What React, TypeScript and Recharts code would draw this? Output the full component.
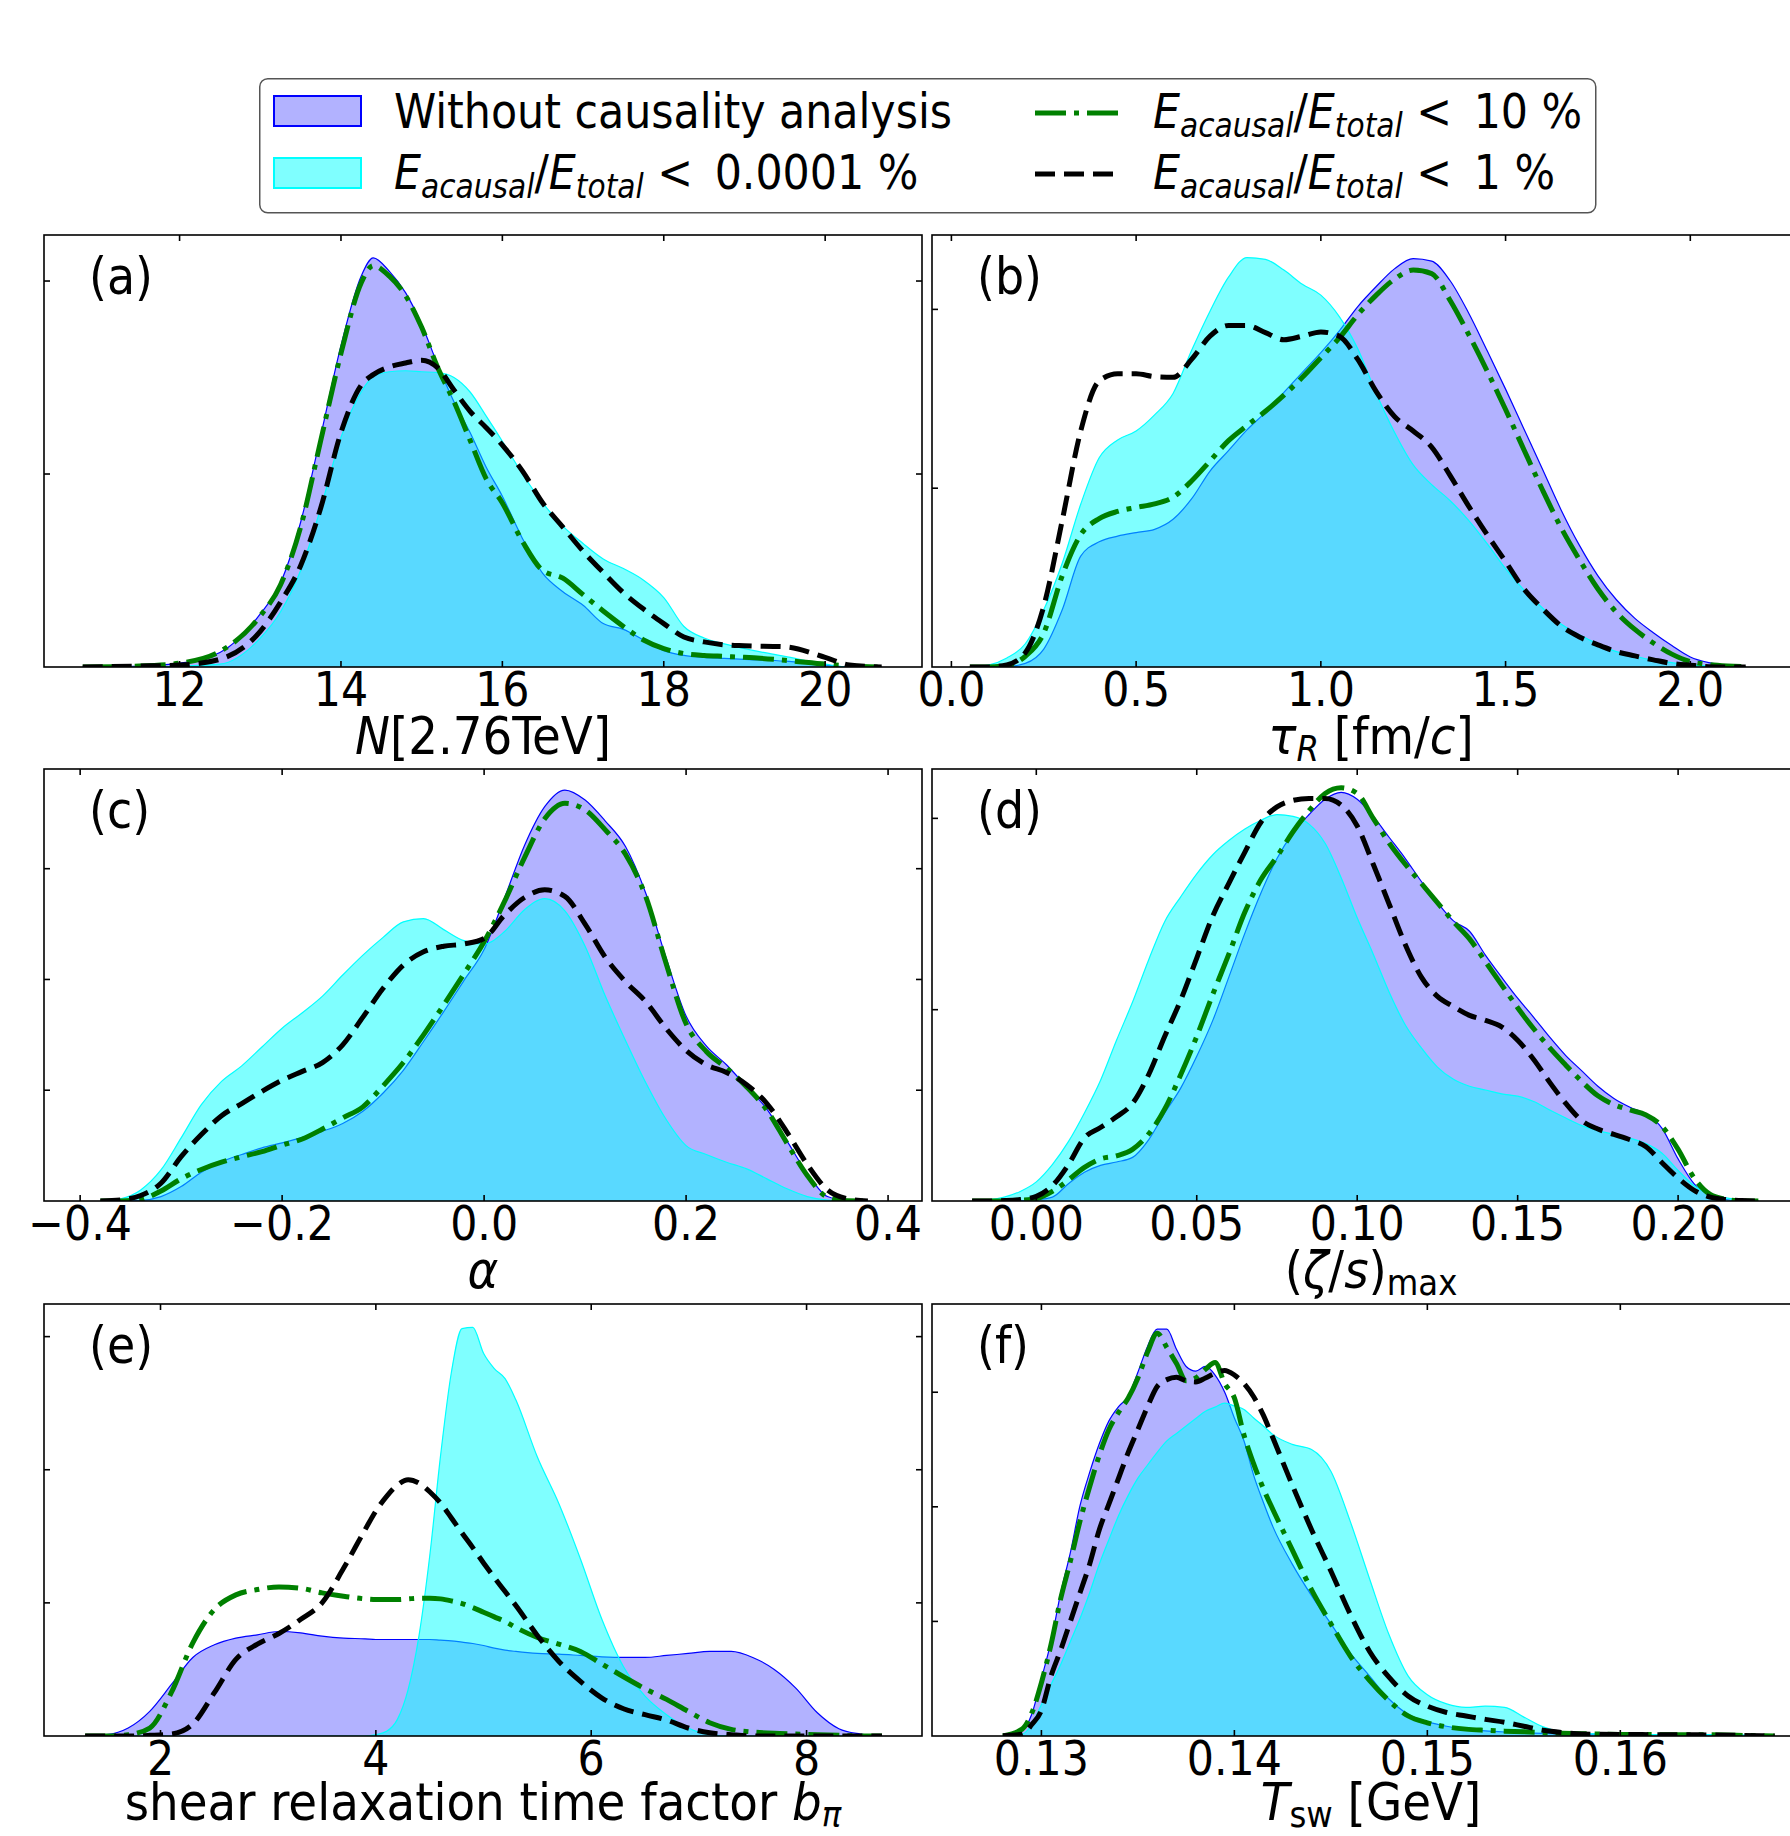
import React from "react";
import { ComposedChart, Area, Line, XAxis, YAxis } from "recharts";

const FONT = "'DejaVu Sans Condensed', 'DejaVu Sans', sans-serif";
const FS = 47.5;
const LABEL_FS = 52;

// (a) N[2.76TeV]
const normX = [10.8, 11.5, 12.0, 12.5, 13.0, 13.25, 13.5, 13.75, 14.0, 14.25, 14.4, 14.6, 14.8, 15.0, 15.2, 15.4, 15.6, 15.8, 16.0, 16.25, 16.5, 16.75, 17.0, 17.25, 17.5, 17.75, 18.0, 18.25, 18.5, 18.75, 19.0, 19.5, 20.0, 20.3, 20.7];
const normWithout = [0, 0.001, 0.004, 0.015, 0.055, 0.087, 0.15, 0.24, 0.333, 0.405, 0.424, 0.41, 0.388, 0.355, 0.313, 0.275, 0.243, 0.207, 0.177, 0.133, 0.097, 0.078, 0.064, 0.045, 0.039, 0.028, 0.017, 0.012, 0.01, 0.009, 0.008, 0.006, 0.002, 0, 0];
const normStrict = [0, 0, 0.001, 0.003, 0.03, 0.057, 0.1, 0.165, 0.238, 0.285, 0.301, 0.306, 0.307, 0.306, 0.305, 0.3, 0.285, 0.26, 0.234, 0.2, 0.17, 0.146, 0.128, 0.112, 0.102, 0.09, 0.072, 0.042, 0.03, 0.024, 0.019, 0.011, 0.003, 0, 0];
const normTen = [0, 0.001, 0.004, 0.016, 0.053, 0.085, 0.145, 0.235, 0.325, 0.398, 0.416, 0.405, 0.385, 0.352, 0.31, 0.275, 0.235, 0.195, 0.17, 0.13, 0.1, 0.092, 0.075, 0.058, 0.042, 0.028, 0.019, 0.014, 0.012, 0.011, 0.01, 0.007, 0.003, 0.001, 0];
const normOne = [0, 0.001, 0.002, 0.008, 0.037, 0.067, 0.105, 0.165, 0.243, 0.292, 0.303, 0.311, 0.315, 0.318, 0.31, 0.287, 0.265, 0.248, 0.23, 0.203, 0.17, 0.145, 0.12, 0.098, 0.077, 0.06, 0.045, 0.031, 0.026, 0.023, 0.022, 0.021, 0.01, 0.002, 0];
const normTicks = [12, 14, 16, 18, 20];

// (b) tau_R
const tauX = [0.05, 0.1, 0.15, 0.2, 0.25, 0.3, 0.35, 0.4, 0.45, 0.5, 0.55, 0.6, 0.65, 0.7, 0.75, 0.8, 0.85, 0.9, 0.95, 1.0, 1.05, 1.1, 1.15, 1.2, 1.25, 1.3, 1.35, 1.4, 1.45, 1.5, 1.55, 1.6, 1.65, 1.7, 1.75, 1.8, 1.85, 1.9, 1.95, 2.0, 2.05, 2.1, 2.15];
const tauWithout = [0, 0, 0.001, 0.01, 0.05, 0.16, 0.31, 0.35, 0.366, 0.376, 0.385, 0.413, 0.47, 0.548, 0.605, 0.663, 0.712, 0.768, 0.824, 0.879, 0.94, 1.008, 1.064, 1.114, 1.142, 1.135, 1.08, 0.99, 0.885, 0.777, 0.665, 0.553, 0.44, 0.34, 0.255, 0.188, 0.136, 0.096, 0.06, 0.028, 0.012, 0.004, 0.001];
const tauStrict = [0, 0.005, 0.025, 0.065, 0.16, 0.29, 0.455, 0.585, 0.635, 0.66, 0.705, 0.765, 0.885, 0.995, 1.09, 1.145, 1.14, 1.11, 1.07, 1.04, 0.98, 0.89, 0.765, 0.655, 0.565, 0.51, 0.465, 0.41, 0.345, 0.275, 0.215, 0.165, 0.12, 0.09, 0.064, 0.043, 0.03, 0.019, 0.012, 0.006, 0.003, 0.001, 0];
const tauTen = [0, 0, 0.004, 0.03, 0.095, 0.255, 0.37, 0.415, 0.435, 0.446, 0.456, 0.475, 0.52, 0.576, 0.633, 0.675, 0.715, 0.76, 0.81, 0.865, 0.92, 0.985, 1.04, 1.085, 1.11, 1.1, 1.025, 0.93, 0.828, 0.72, 0.607, 0.495, 0.39, 0.3, 0.218, 0.153, 0.105, 0.067, 0.036, 0.015, 0.007, 0.003, 0.001];
const tauOne = [0, 0, 0.006, 0.04, 0.17, 0.41, 0.66, 0.8, 0.82, 0.82, 0.812, 0.81, 0.86, 0.925, 0.955, 0.955, 0.935, 0.915, 0.925, 0.937, 0.925, 0.86, 0.77, 0.7, 0.66, 0.615, 0.535, 0.45, 0.37, 0.295, 0.218, 0.163, 0.115, 0.084, 0.062, 0.043, 0.031, 0.02, 0.01, 0.005, 0.001, 0, 0];
const tauTicks = [0, 0.5, 1.0, 1.5, 2.0];

// (c) alpha
const alphaX = [-0.38, -0.36, -0.34, -0.32, -0.3, -0.28, -0.26, -0.24, -0.22, -0.2, -0.18, -0.16, -0.14, -0.12, -0.1, -0.08, -0.06, -0.04, -0.02, 0, 0.02, 0.04, 0.06, 0.08, 0.1, 0.12, 0.14, 0.16, 0.18, 0.2, 0.22, 0.24, 0.26, 0.28, 0.3, 0.32, 0.34, 0.36, 0.38];
const alphaWithout = [0, 0, 0.005, 0.04, 0.13, 0.26, 0.355, 0.42, 0.48, 0.525, 0.575, 0.63, 0.7, 0.81, 0.975, 1.18, 1.44, 1.71, 1.99, 2.27, 2.73, 3.21, 3.56, 3.71, 3.62, 3.43, 3.2, 2.78, 2.2, 1.67, 1.4, 1.23, 1.03, 0.83, 0.54, 0.25, 0.04, 0.003, 0];
const alphaStrict = [0, 0.02, 0.1, 0.28, 0.57, 0.87, 1.08, 1.22, 1.39, 1.56, 1.7, 1.85, 2.04, 2.22, 2.38, 2.52, 2.55, 2.45, 2.35, 2.32, 2.43, 2.63, 2.73, 2.62, 2.3, 1.85, 1.45, 1.07, 0.74, 0.5, 0.42, 0.35, 0.29, 0.2, 0.11, 0.04, 0.008, 0, 0];
const alphaTen = [0, 0, 0.015, 0.09, 0.2, 0.285, 0.35, 0.4, 0.445, 0.505, 0.56, 0.65, 0.75, 0.85, 1.04, 1.25, 1.5, 1.77, 2.05, 2.34, 2.7, 3.1, 3.45, 3.59, 3.53, 3.35, 3.13, 2.75, 2.15, 1.6, 1.35, 1.2, 1.03, 0.82, 0.52, 0.23, 0.035, 0.002, 0];
const alphaOne = [0, 0.01, 0.05, 0.16, 0.4, 0.6, 0.77, 0.88, 0.99, 1.09, 1.17, 1.25, 1.41, 1.66, 1.92, 2.13, 2.25, 2.3, 2.32, 2.37, 2.58, 2.74, 2.81, 2.75, 2.5, 2.2, 1.98, 1.8, 1.56, 1.36, 1.23, 1.16, 1.05, 0.88, 0.62, 0.33, 0.1, 0.02, 0];
const alphaTicks = [-0.4, -0.2, 0, 0.2, 0.4];

// (d) (zeta/s)_max
const zetaX = [-0.02, -0.015, -0.01, -0.005, 0, 0.005, 0.01, 0.015, 0.02, 0.025, 0.03, 0.035, 0.04, 0.045, 0.05, 0.055, 0.06, 0.065, 0.07, 0.075, 0.08, 0.085, 0.09, 0.095, 0.1, 0.105, 0.11, 0.115, 0.12, 0.125, 0.13, 0.135, 0.14, 0.145, 0.15, 0.155, 0.16, 0.165, 0.17, 0.175, 0.18, 0.185, 0.19, 0.195, 0.2, 0.205, 0.21, 0.215, 0.22, 0.225];
const zetaWithout = [0, 0, 0, 0.01, 0.03, 0.1, 0.45, 0.75, 0.93, 1.02, 1.14, 1.6, 2.3, 2.95, 3.78, 4.72, 5.85, 7.0, 8.05, 8.95, 9.62, 10.1, 10.5, 10.68, 10.5, 10.05, 9.5, 8.95, 8.35, 7.8, 7.32, 7.05, 6.42, 5.85, 5.3, 4.8, 4.28, 3.8, 3.4, 3.0, 2.68, 2.45, 2.27, 1.9, 1.1, 0.45, 0.15, 0.04, 0, 0];
const zetaStrict = [0.005, 0.03, 0.1, 0.25, 0.5, 0.95, 1.55, 2.3, 3.15, 4.2, 5.2, 6.3, 7.3, 7.95, 8.55, 9.05, 9.42, 9.72, 9.95, 10.1, 10.05, 9.85, 9.35, 8.45, 7.4, 6.45, 5.45, 4.6, 4.0, 3.5, 3.18, 3.0, 2.9, 2.8, 2.74, 2.6, 2.38, 2.17, 1.97, 1.84, 1.74, 1.64, 1.5, 1.25, 0.8, 0.4, 0.18, 0.08, 0.03, 0.005];
const zetaTen = [0, 0, 0, 0.02, 0.06, 0.25, 0.55, 0.88, 1.1, 1.18, 1.35, 1.75, 2.4, 3.3, 4.3, 5.4, 6.45, 7.55, 8.4, 9.0, 9.65, 10.2, 10.65, 10.8, 10.65, 10.0, 9.35, 8.8, 8.3, 7.8, 7.3, 6.85, 6.25, 5.65, 5.05, 4.5, 4.0, 3.55, 3.12, 2.75, 2.52, 2.38, 2.25, 1.95, 1.35, 0.6, 0.17, 0.04, 0, 0];
const zetaOne = [0, 0, 0.01, 0.04, 0.12, 0.4, 0.95, 1.65, 1.92, 2.2, 2.55, 3.3, 4.3, 5.25, 6.35, 7.45, 8.3, 9.12, 9.9, 10.3, 10.47, 10.52, 10.52, 10.35, 9.8, 8.8, 7.75, 6.7, 5.85, 5.35, 5.08, 4.85, 4.72, 4.55, 4.2, 3.7, 3.1, 2.55, 2.1, 1.88, 1.74, 1.6, 1.42, 1.0, 0.6, 0.28, 0.1, 0.04, 0.01, 0];
const zetaTicks = [0, 0.05, 0.1, 0.15, 0.2];

// (e) b_pi
const bpiX = [1.3, 1.5, 1.7, 1.9, 2.1, 2.3, 2.5, 2.7, 2.9, 3.1, 3.3, 3.5, 3.7, 3.9, 4.0, 4.1, 4.2, 4.3, 4.4, 4.5, 4.6, 4.7, 4.8, 4.9, 5.0, 5.1, 5.2, 5.3, 5.5, 5.7, 5.9, 6.1, 6.3, 6.5, 6.7, 6.9, 7.1, 7.3, 7.5, 7.7, 7.9, 8.1, 8.3, 8.5, 8.7];
const bpiWithout = [0, 0.002, 0.012, 0.037, 0.077, 0.118, 0.137, 0.147, 0.152, 0.157, 0.155, 0.15, 0.147, 0.146, 0.145, 0.145, 0.145, 0.145, 0.145, 0.145, 0.144, 0.143, 0.141, 0.139, 0.136, 0.132, 0.129, 0.127, 0.124, 0.123, 0.121, 0.119, 0.118, 0.118, 0.121, 0.124, 0.127, 0.127, 0.118, 0.1, 0.072, 0.035, 0.011, 0.003, 0];
const bpiStrict = [0, 0, 0, 0, 0, 0, 0, 0, 0, 0, 0, 0, 0, 0, 0.002, 0.007, 0.025, 0.07, 0.15, 0.27, 0.42, 0.545, 0.612, 0.614, 0.575, 0.552, 0.537, 0.505, 0.419, 0.349, 0.266, 0.175, 0.104, 0.06, 0.032, 0.012, 0.002, 0, 0, 0, 0, 0, 0, 0, 0];
const bpiTen = [0, 0, 0.002, 0.012, 0.065, 0.14, 0.19, 0.212, 0.22, 0.224, 0.222, 0.215, 0.21, 0.206, 0.205, 0.205, 0.205, 0.206, 0.207, 0.207, 0.206, 0.203, 0.199, 0.193, 0.186, 0.179, 0.172, 0.163, 0.148, 0.138, 0.127, 0.108, 0.089, 0.071, 0.055, 0.037, 0.02, 0.01, 0.006, 0.004, 0.003, 0.002, 0.001, 0, 0];
const bpiOne = [0, 0, 0, 0.001, 0.003, 0.018, 0.065, 0.115, 0.138, 0.154, 0.175, 0.2, 0.252, 0.31, 0.338, 0.36, 0.377, 0.385, 0.38, 0.367, 0.35, 0.328, 0.305, 0.283, 0.26, 0.238, 0.217, 0.196, 0.151, 0.112, 0.082, 0.057, 0.041, 0.032, 0.024, 0.012, 0.005, 0.002, 0, 0, 0, 0, 0, 0, 0];
const bpiTicks = [2, 4, 6, 8];

// (f) T_sw
const tswX = [0.128, 0.129, 0.1295, 0.13, 0.1305, 0.131, 0.1315, 0.132, 0.1325, 0.133, 0.1335, 0.134, 0.1345, 0.135, 0.1355, 0.136, 0.1365, 0.137, 0.1375, 0.138, 0.1385, 0.139, 0.1395, 0.14, 0.1405, 0.141, 0.1415, 0.142, 0.143, 0.144, 0.145, 0.146, 0.147, 0.148, 0.149, 0.15, 0.151, 0.152, 0.153, 0.154, 0.155, 0.156, 0.157, 0.158, 0.16, 0.162, 0.164, 0.166, 0.168];
const tswWithout = [0, 1.0, 3.8, 10, 16.5, 25, 32, 40.2, 46, 51, 55, 57.5, 59.3, 63.5, 68, 71, 71, 67.5, 64.5, 63.7, 64.5, 63, 60, 55.5, 51.5, 45.5, 40.8, 36.5, 30, 24.5, 19.6, 14.5, 10.5, 6.5, 3.8, 2.5, 1.7, 1.2, 0.9, 0.7, 0.55, 0.45, 0.4, 0.32, 0.27, 0.22, 0.2, 0.13, 0];
const tswStrict = [0, 0.3, 2, 5.5, 9, 12.5, 16.5, 20.5, 25, 30, 34.3, 38.5, 42, 45, 47.3, 49.5, 51.5, 52.8, 54.1, 55.4, 56.7, 57.4, 58.1, 57.6, 57, 55.5, 54.1, 52.6, 50.9, 50, 46.2, 37.5, 27.5, 17.8, 10.5, 7.2, 5.6, 5.0, 5.2, 5.0, 3.3, 1.6, 0.7, 0.45, 0.3, 0.25, 0.24, 0.18, 0.05];
const tswTen = [0, 1.2, 4, 9.3, 16, 24, 30.5, 37.5, 43.5, 49, 53.5, 56.5, 59, 62.5, 67, 70.3, 67.8, 65, 62, 62.5, 64, 65.2, 61.5, 59, 52.5, 47.5, 43.2, 39.5, 32.5, 25.5, 19.6, 14, 9.7, 6.2, 3.5, 2.3, 1.6, 1.2, 1.0, 0.85, 0.75, 0.6, 0.5, 0.4, 0.28, 0.24, 0.24, 0.12, 0];
const tswOne = [0.05, 0.3, 2, 4.5, 10.5, 15, 20, 25, 30, 36, 40.5, 45, 49.5, 53.5, 57.5, 61, 62.2, 62.6, 62, 61.8, 62.5, 63.3, 63.8, 63, 61.5, 59.2, 56, 52, 43.8, 36, 28.8, 21.3, 14.8, 10.3, 7, 5.2, 4.1, 3.5, 2.9, 2.4, 1.7, 1.0, 0.6, 0.35, 0.27, 0.23, 0.2, 0.12, 0];
const tswTicks = [0.13, 0.14, 0.15, 0.16];

const W = 878;
const H = 432;
const PADX = 70;
const PADY = 12;
const TICK = 6;

const minus = (s: string) => s.replace("-", "\u2212");

const panels = [
  { id: "(a)", left: 44, top: 235, x: normX, without: normWithout, strict: normStrict, ten: normTen, one: normOne, xDomain: [10.32, 21.2], xTicks: normTicks, fmt: (v: number) => String(v), yMax: 0.4477, yTicks: [0.2, 0.4] },
  { id: "(b)", left: 932, top: 235, x: tauX, without: tauWithout, strict: tauStrict, ten: tauTen, one: tauOne, xDomain: [-0.0525, 2.324], xTicks: tauTicks, fmt: (v: number) => v.toFixed(1), yMax: 1.208, yTicks: [0.5, 1.0] },
  { id: "(c)", left: 44, top: 769, x: alphaX, without: alphaWithout, strict: alphaStrict, ten: alphaTen, one: alphaOne, xDomain: [-0.4358, 0.4336], xTicks: alphaTicks, fmt: (v: number) => minus(v.toFixed(1)), yMax: 3.9, yTicks: [1, 2, 3] },
  { id: "(d)", left: 932, top: 769, x: zetaX, without: zetaWithout, strict: zetaStrict, ten: zetaTen, one: zetaOne, xDomain: [-0.0325, 0.2411], xTicks: zetaTicks, fmt: (v: number) => v.toFixed(2), yMax: 11.29, yTicks: [5, 10] },
  { id: "(e)", left: 44, top: 1304, x: bpiX, without: bpiWithout, strict: bpiStrict, ten: bpiTen, one: bpiOne, xDomain: [0.918, 9.072], xTicks: bpiTicks, fmt: (v: number) => String(v), yMax: 0.649, yTicks: [0.2, 0.4, 0.6] },
  { id: "(f)", left: 932, top: 1304, x: tswX, without: tswWithout, strict: tswStrict, ten: tswTen, one: tswOne, xDomain: [0.12433, 0.16983], xTicks: tswTicks, fmt: (v: number) => v.toFixed(2), yMax: 75.4, yTicks: [20, 40, 60] },
];

function Panel({ cfg }: { cfg: any }) {
  const rows = cfg.x.map((x: number, i: number) => ({
    x,
    without: cfg.without[i],
    strict: cfg.strict[i],
    ten: cfg.ten[i],
    one: cfg.one[i],
  }));

  // bottom axis draws its labels plus inward ticks on both bottom and top spines
  const bottomTick = (p: any) => (
    <g>
      <line x1={p.x} y1={p.y} x2={p.x} y2={p.y - TICK} stroke="#000" strokeWidth={1.6} />
      <line x1={p.x} y1={p.y - H} x2={p.x} y2={p.y - H + TICK} stroke="#000" strokeWidth={1.6} />
      <text x={p.x} y={p.y + 39} textAnchor="middle" fontSize={FS} fontFamily={FONT} fill="#000">
        {cfg.fmt(p.payload.value)}
      </text>
    </g>
  );
  const leftTick = (p: any) => (
    <line x1={p.x} y1={p.y} x2={p.x + TICK} y2={p.y} stroke="#000" strokeWidth={1.6} />
  );
  const rightTick = (p: any) => (
    <line x1={p.x} y1={p.y} x2={p.x - TICK} y2={p.y} stroke="#000" strokeWidth={1.6} />
  );

  return (
    <div style={{ position: "absolute", left: cfg.left - PADX, top: cfg.top - PADY }}>
      <ComposedChart
        width={W + 2 * PADX}
        height={H + PADY + 60}
        data={rows}
        margin={{ top: PADY, right: PADX - 1, left: PADX - 1, bottom: 0 }}
      >
        <XAxis xAxisId="b" dataKey="x" type="number" domain={cfg.xDomain} ticks={cfg.xTicks}
          allowDataOverflow interval={0} height={60} tickSize={0} tickMargin={0} tickLine={false}
          axisLine={false} tick={bottomTick} />
        <YAxis yAxisId="l" type="number" domain={[0, cfg.yMax]} ticks={cfg.yTicks}
          allowDataOverflow interval={0} width={1} tickSize={0} tickMargin={0} tickLine={false}
          axisLine={false} tick={leftTick} />
        <YAxis yAxisId="r" orientation="right" type="number" domain={[0, cfg.yMax]} ticks={cfg.yTicks}
          allowDataOverflow interval={0} width={1} tickSize={0} tickMargin={0} tickLine={false}
          axisLine={false} tick={rightTick} />
        <Area xAxisId="b" yAxisId="l" dataKey="without" type="monotone" fill="#0000ff" fillOpacity={0.3}
          stroke="#0000ff" strokeWidth={1.2} dot={false} activeDot={false} isAnimationActive={false} />
        <Area xAxisId="b" yAxisId="l" dataKey="strict" type="monotone" fill="#00ffff" fillOpacity={0.5}
          stroke="#00ffff" strokeWidth={1.2} dot={false} activeDot={false} isAnimationActive={false} />
        <Line xAxisId="b" yAxisId="r" dataKey="ten" type="monotone" stroke="#008000" strokeWidth={5}
          strokeDasharray="31 8 5 8" dot={false} activeDot={false} isAnimationActive={false} />
        <Line xAxisId="b" yAxisId="r" dataKey="one" type="monotone" stroke="#000000" strokeWidth={5}
          strokeDasharray="20 9" dot={false} activeDot={false} isAnimationActive={false} />
      </ComposedChart>
    </div>
  );
}

const SUB = 33;
const SHIFT = 9;

function RatioLabel({ x, y, tail }: { x: number; y: number; tail: string }) {
  return (
    <text x={x} y={y} fontSize={FS} fontFamily={FONT} fill="#000">
      <tspan fontStyle="italic">E</tspan>
      <tspan fontStyle="italic" fontSize={SUB} dy={SHIFT}>acausal</tspan>
      <tspan dy={-SHIFT}>/</tspan>
      <tspan fontStyle="italic">E</tspan>
      <tspan fontStyle="italic" fontSize={SUB} dy={SHIFT}>total</tspan>
      <tspan dy={-SHIFT}>{" <"}</tspan>
      <tspan dx={8}>{" " + tail}</tspan>
    </text>
  );
}

function Legend() {
  return (
    <svg width={1340} height={138} style={{ position: "absolute", left: 259, top: 78 }}>
      <rect x={0.75} y={0.75} width={1336} height={134} rx={8} fill="#fff" stroke="#555" strokeWidth={1.5} />
      <rect x={15} y={18} width={87} height={30} fill="#0000ff" fillOpacity={0.3} stroke="#0000ff" strokeWidth={2} />
      <rect x={15} y={80} width={87} height={30} fill="#00ffff" fillOpacity={0.5} stroke="#00ffff" strokeWidth={2} />
      <text x={135} y={50} fontSize={FS} fontFamily={FONT} fill="#000">Without causality analysis</text>
      <RatioLabel x={135} y={111} tail="0.0001 %" />
      <line x1={776} y1={35} x2={859} y2={35} stroke="#008000" strokeWidth={5} strokeDasharray="31 8 5 8" />
      <line x1={776} y1={96} x2={859} y2={96} stroke="#000" strokeWidth={5} strokeDasharray="20 9" />
      <RatioLabel x={894} y={50} tail="10 %" />
      <RatioLabel x={894} y={111} tail="1 %" />
    </svg>
  );
}

function Captions() {
  const lx = 44 + W / 2;
  const rx = 932 + W / 2;
  const base = (top: number) => Math.min(top + H + 87, 1820);
  const sub = 36;
  const sh = 7;
  const t = { fontSize: LABEL_FS, fontFamily: FONT, fill: "#000", textAnchor: "middle" as const };
  return (
    <svg width={1790} height={1836} style={{ position: "absolute", left: 0, top: 0, pointerEvents: "none" }}>
      {panels.map((p) => (
        <g key={p.id}>
          <rect x={p.left} y={p.top} width={W} height={H} fill="none" stroke="#000" strokeWidth={1.6} />
          <text x={p.left + 45} y={p.top + 59} fontSize={51} fontFamily={FONT} fill="#000">{p.id}</text>
        </g>
      ))}
      <text x={lx} y={base(235)} {...t}>
        <tspan fontStyle="italic">N</tspan>[2.76TeV]
      </text>
      <text x={rx} y={base(235)} {...t}>
        <tspan fontStyle="italic">τ</tspan>
        <tspan fontStyle="italic" fontSize={sub} dy={sh}>R</tspan>
        <tspan dy={-sh}> [fm/</tspan>
        <tspan fontStyle="italic">c</tspan>]
      </text>
      <text x={lx} y={base(769)} {...t}>
        <tspan fontStyle="italic">α</tspan>
      </text>
      <text x={rx} y={base(769)} {...t}>
        (<tspan fontStyle="italic">ζ</tspan>/<tspan fontStyle="italic">s</tspan>)
        <tspan fontSize={sub} dy={sh}>max</tspan>
      </text>
      <text x={lx} y={base(1304)} {...t}>
        shear relaxation time factor <tspan fontStyle="italic">b</tspan>
        <tspan fontStyle="italic" fontSize={sub} dy={sh}>π</tspan>
      </text>
      <text x={rx} y={base(1304)} {...t}>
        <tspan fontStyle="italic">T</tspan>
        <tspan fontSize={sub} dy={sh}>sw</tspan>
        <tspan dy={-sh}> [GeV]</tspan>
      </text>
    </svg>
  );
}

export default function App() {
  return (
    <div style={{ position: "absolute", left: 0, top: 0, width: 1790, height: 1836, overflow: "hidden", background: "#fff" }}>
      <Legend />
      {panels.map((p) => (
        <Panel key={p.id} cfg={p} />
      ))}
      <Captions />
    </div>
  );
}
